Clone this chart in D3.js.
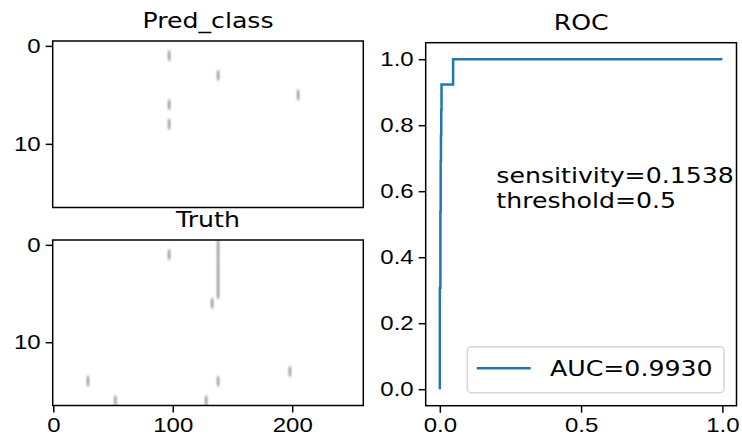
<!DOCTYPE html>
<html>
<head>
<meta charset="UTF-8">
<style>
  body { margin: 0; background: #fff; }
  svg { display: block; font-family: "DejaVu Sans", sans-serif; }
</style>
</head>
<body>
<script src="https://d3js.org/d3.v7.min.js"></script>
<div id="chart"></div>
<script>
  // image size (rows x cols)
  var nRows = 17, nCols = 260;

  // lit cells [row, col]
  var predCells = [[1, 97], [3, 138], [5, 205], [6, 97], [8, 97]];
  var truthCells = [[1, 97], [0, 138], [1, 138], [2, 138], [3, 138], [4, 138], [5, 138],
                    [6, 133], [13, 198], [14, 29], [14, 138], [16, 52], [16, 128]];

  // roc curve
  var fpr = [0, 0, 0.002, 0.002, 0.003, 0.003, 0.004, 0.004, 0.005, 0.005, 0.006, 0.006, 0.047, 0.047, 1.0];
  var tpr = [0, 0.3077, 0.3077, 0.5385, 0.5385, 0.6923, 0.6923, 0.7692, 0.7692, 0.8462, 0.8462, 0.9231, 0.9231, 1.0, 1.0];

  var heatXTicks = [0, 100, 200];
  var heatYTicks = [0, 10];
  var rocXTicks = [0, 0.5, 1.0];
  var rocYTicks = [0, 0.2, 0.4, 0.6, 0.8, 1.0];

  var aucLabel = "AUC=0.9930";
  var noteLines = ["sensitivity=0.1538", "threshold=0.5"];

  var SX = 1.2;   // text looks stretched sideways
  var W = 742, H = 443;

  var svg = d3.select("#chart").append("svg")
    .attr("width", W)
    .attr("height", H);

  var defs = svg.append("defs");
  defs.append("filter")
      .attr("id", "soft")
      .attr("filterUnits", "userSpaceOnUse")
      .attr("x", 0).attr("y", 0).attr("width", W).attr("height", H)
    .append("feGaussianBlur")
      .attr("stdDeviation", "0.8 1.7");

  function stretchTicks(g) {
    g.selectAll(".tick text").each(function() {
      var t = d3.select(this);
      t.attr("x", (+t.attr("x") || 0) / SX).attr("transform", "scale(" + SX + ",1)");
    });
  }

  function title(x, y, str) {
    svg.append("text")
      .attr("transform", "translate(" + x + "," + y + ") scale(" + SX + ",1)")
      .attr("text-anchor", "middle")
      .style("font-size", "21px")
      .text(str);
  }

  function heatmap(id, cells, box, showX, name) {
    var x = d3.scaleLinear().domain([-0.5, nCols - 0.5]).range([box.left, box.right]);
    var y = d3.scaleLinear().domain([-0.5, nRows - 0.5]).range([box.top, box.bottom]);
    var color = d3.scaleSequential(d3.interpolateGreys).domain([0, 1]);

    defs.append("clipPath").attr("id", "clip" + id)
      .append("rect")
        .attr("x", box.left).attr("y", box.top)
        .attr("width", box.right - box.left).attr("height", box.bottom - box.top);

    svg.append("g")
        .attr("clip-path", "url(#clip" + id + ")")
      .append("g")
        .attr("filter", "url(#soft)")
      .selectAll("rect")
      .data(cells)
      .join("rect")
        .attr("x", d => x(d[1] - 0.5) - 0.3)
        .attr("y", d => y(d[0] - 0.5))
        .attr("width", x(1) - x(0) + 0.6)
        .attr("height", y(1) - y(0))
        .attr("fill", color(1))
        .attr("fill-opacity", 0.55);

    var gy = svg.append("g")
      .attr("transform", "translate(" + box.left + ",0)")
      .call(d3.axisLeft(y).tickValues(heatYTicks).tickSize(7).tickPadding(5).tickSizeOuter(0));
    gy.select(".domain").remove();
    stretchTicks(gy);

    if (showX) {
      var gx = svg.append("g")
        .attr("transform", "translate(0," + box.bottom + ")")
        .call(d3.axisBottom(x).tickValues(heatXTicks).tickSize(7).tickPadding(5).tickSizeOuter(0));
      gx.select(".domain").remove();
      stretchTicks(gx);
    }

    svg.append("rect")
      .attr("x", box.left).attr("y", box.top)
      .attr("width", box.right - box.left).attr("height", box.bottom - box.top)
      .attr("fill", "none").attr("stroke", "#000").attr("stroke-width", 1.5);

    title((box.left + box.right) / 2, box.top - 13, name);
  }

  heatmap("p", predCells, {left: 52.7, right: 363.3, top: 41, bottom: 207.5}, false, "Pred_class");
  heatmap("t", truthCells, {left: 52.7, right: 363.3, top: 240, bottom: 405.5}, true, "Truth");

  // ROC panel
  var rb = {left: 425.7, right: 736.5, top: 42.7, bottom: 405.7};
  var xR = d3.scaleLinear().domain([-0.05, 1.05]).range([rb.left, rb.right]);
  var yR = d3.scaleLinear().domain([-0.05, 1.05]).range([rb.bottom, rb.top]);

  var gxr = svg.append("g")
    .attr("transform", "translate(0," + rb.bottom + ")")
    .call(d3.axisBottom(xR).tickValues(rocXTicks).tickFormat(d3.format(".1f")).tickSize(7).tickPadding(5).tickSizeOuter(0));
  gxr.select(".domain").remove();
  stretchTicks(gxr);

  var gyr = svg.append("g")
    .attr("transform", "translate(" + rb.left + ",0)")
    .call(d3.axisLeft(yR).tickValues(rocYTicks).tickFormat(d3.format(".1f")).tickSize(7).tickPadding(5).tickSizeOuter(0));
  gyr.select(".domain").remove();
  stretchTicks(gyr);

  svg.selectAll(".tick line").attr("stroke-width", 1.5);
  svg.selectAll(".tick text").style("font-size", "20px").attr("fill", "#000");

  var roc = fpr.map((f, i) => [f, tpr[i]]);
  svg.append("path")
    .datum(roc)
    .attr("fill", "none")
    .attr("stroke", "#1f77b4")
    .attr("stroke-width", 2.5)
    .attr("d", d3.line().x(d => xR(d[0])).y(d => yR(d[1])));

  svg.append("rect")
    .attr("x", rb.left).attr("y", rb.top)
    .attr("width", rb.right - rb.left).attr("height", rb.bottom - rb.top)
    .attr("fill", "none").attr("stroke", "#000").attr("stroke-width", 1.5);

  title((rb.left + rb.right) / 2, rb.top - 13, "ROC");

  // annotation
  noteLines.forEach(function(s, i) {
    svg.append("text")
      .attr("transform", "translate(" + xR(0.2) + "," + (yR(0.55) - (noteLines.length - 1 - i) * 24.4) + ") scale(" + SX + ",1)")
      .style("font-size", "21px")
      .text(s);
  });

  // legend
  var lg = svg.append("g");
  lg.append("rect")
    .attr("x", 467.3).attr("y", 346.7).attr("width", 256.7).attr("height", 46)
    .attr("rx", 4)
    .attr("fill", "#fff").attr("fill-opacity", 0.8)
    .attr("stroke", "#d6d6d6").attr("stroke-width", 1.5);
  lg.append("line")
    .attr("x1", 476.7).attr("x2", 530.7).attr("y1", 368.3).attr("y2", 368.3)
    .attr("stroke", "#1f77b4").attr("stroke-width", 2.5);
  lg.append("text")
    .attr("transform", "translate(550," + 376 + ") scale(" + SX + ",1)")
    .style("font-size", "21px")
    .text(aucLabel);
</script>
</body>
</html>
